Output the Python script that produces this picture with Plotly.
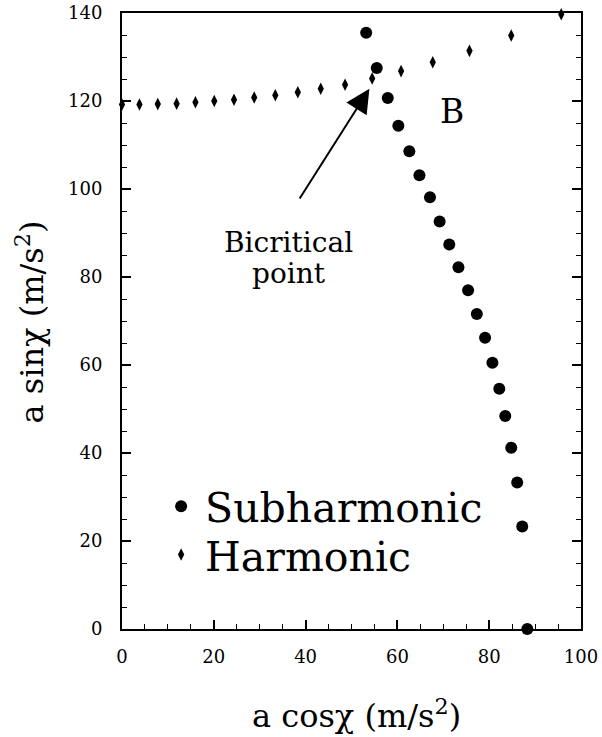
import plotly.graph_objects as go

# ---- data ----
sub_x = [53.2, 55.5, 57.9, 60.2, 62.6, 64.8, 67.1, 69.2, 71.3, 73.3,
         75.4, 77.3, 79.1, 80.7, 82.2, 83.5, 84.8, 86.1, 87.2, 88.3]
sub_y = [135.5, 127.5, 120.7, 114.4, 108.6, 103.1, 98.1, 92.6, 87.4, 82.2,
         77.0, 71.6, 66.2, 60.5, 54.6, 48.4, 41.2, 33.3, 23.3, 0.0]

har_x = [0.0, 3.8, 7.8, 11.9, 16.0, 20.1, 24.4, 28.8, 33.4, 38.3,
         43.3, 48.6, 54.5, 60.8, 67.7, 75.7, 84.8, 95.7]
har_y = [119.2, 119.2, 119.3, 119.4, 119.7, 120.0, 120.3, 120.8, 121.3, 122.0,
         122.8, 123.7, 125.1, 126.8, 128.8, 131.4, 134.9, 139.7]

x_ticks = [0, 20, 40, 60, 80, 100]
y_ticks = [0, 20, 40, 60, 80, 100, 120, 140]

FONT = "DejaVu Serif"

fig = go.Figure()
fig.add_trace(go.Scatter(
    x=sub_x, y=sub_y, mode="markers", name="Subharmonic",
    marker=dict(symbol="circle", size=12, color="black"),
    cliponaxis=False, legend="legend"))
fig.add_trace(go.Scatter(
    x=har_x, y=har_y, mode="markers", name="Harmonic",
    marker=dict(symbol="diamond-tall", size=9, color="black"),
    cliponaxis=False, legend="legend2"))

axis_common = dict(
    showgrid=False, zeroline=False, showline=True, linecolor="black", linewidth=2,
    ticks="inside", ticklen=9, tickwidth=1.5, tickcolor="black",
    tickfont=dict(family=FONT, size=18, color="black"),
    automargin=False,
    minor=dict(ticks="inside", ticklen=5, tickwidth=1, tickcolor="black", dtick=5),
)

fig.update_xaxes(range=[0, 100], tickvals=x_ticks, mirror=True,
                 ticklabelstandoff=10, **axis_common)
fig.update_yaxes(range=[0, 140], tickvals=y_ticks, mirror="ticks",
                 ticklabelstandoff=14, **axis_common)

fig.add_annotation(x=71.8, y=117.7, text="B", showarrow=False,
                   xanchor="center", yanchor="middle",
                   font=dict(family=FONT, size=33, color="black"))
fig.add_annotation(x=36.3, y=87.9, text="Bicritical", showarrow=False,
                   xanchor="center", yanchor="middle",
                   font=dict(family=FONT, size=28, color="black"))
fig.add_annotation(x=36.3, y=80.9, text="point", showarrow=False,
                   xanchor="center", yanchor="middle",
                   font=dict(family=FONT, size=28, color="black"))
fig.add_annotation(x=53.9, y=122.8, ax=38.5, ay=97.5, axref="x", ayref="y",
                   text="", showarrow=True, arrowhead=2, arrowwidth=2,
                   arrowsize=2.4, arrowcolor="black")

fig.add_annotation(xref="paper", yref="paper", x=0.51, y=-0.1387,
                   xanchor="center", yanchor="middle",
                   text="a cosχ (m/s<sup>2</sup>)", showarrow=False,
                   font=dict(family=FONT, size=32, color="black"))
fig.add_annotation(xref="paper", yref="paper", x=-0.2, y=0.498, textangle=-90,
                   xanchor="center", yanchor="middle",
                   text="a sinχ (m/s<sup>2</sup>)", showarrow=False,
                   font=dict(family=FONT, size=32, color="black"))

legend_common = dict(xanchor="left", yanchor="middle", bgcolor="rgba(0,0,0,0)",
                     itemwidth=38,
                     font=dict(family=FONT, size=41, color="black"))
fig.update_layout(
    width=602, height=737,
    margin=dict(l=122, r=21, t=13, b=108, autoexpand=False),
    paper_bgcolor="white", plot_bgcolor="white",
    showlegend=True,
    legend=dict(x=0.0765, y=0.1988, **legend_common),
    legend2=dict(x=0.0765, y=0.1203, **legend_common),
)

fig.write_html("out.html",
               config={"displayModeBar": False},
               post_script="document.body.style.margin='0';")
